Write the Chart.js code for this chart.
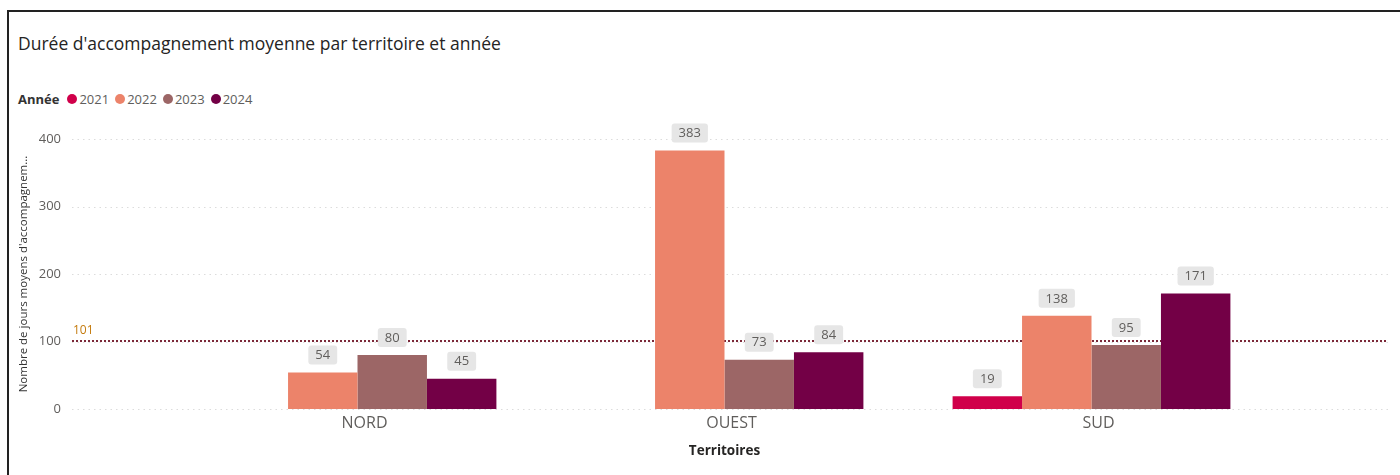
<!DOCTYPE html>
<html lang="fr">
<head>
<meta charset="utf-8">
<script src="https://cdn.jsdelivr.net/npm/chart.js@4.4.1/dist/chart.umd.min.js"></script>
<style>
  html, body { margin: 0; padding: 0; background: #fff; }
  body { width: 1400px; height: 475px; position: relative; overflow: hidden; font-family: "Open Sans", sans-serif; }
  #frame { position: absolute; left: 7px; top: 10px; width: 1400px; height: 480px; border-top: 2px solid #222; border-left: 2px solid #222; }
  #title { position: absolute; left: 18px; top: 31px; font-size: 17.5px; color: #252423; white-space: nowrap; }
  #legend { position: absolute; left: 18px; top: 90px; font-size: 13px; color: #605e5c; display: flex; align-items: center; white-space: nowrap; }
  #legend b { color: #333; margin-right: 8px; font-weight: 700; }
  #legend span.item { display: inline-flex; align-items: center; margin-right: 6px; }
  #legend i { display: inline-block; width: 10px; height: 10px; border-radius: 50%; margin-right: 2px; }
  #wrap { position: absolute; left: 0; top: 0; width: 1400px; height: 475px; }
</style>
</head>
<body>
<div id="frame"></div>
<div id="title">Durée d'accompagnement moyenne par territoire et année</div>
<div id="legend"></div>
<div id="wrap"><canvas id="chart"></canvas></div>

<script>
// =======================
// Data
// =======================
const territoires = ["NORD", "OUEST", "SUD"]
const annees = ["2021", "2022", "2023", "2024"]

const duree2021 = [null, null, 19]
const duree2022 = [54, 383, 138]
const duree2023 = [80, 73, 95]
const duree2024 = [45, 84, 171]

const moyenne = 101
const yTicks = [0, 100, 200, 300, 400]

const couleurs = ["#d0004a", "#ec836a", "#9c6666", "#730046"]


// =======================
// Legend (html)
// =======================
const legend = document.getElementById("legend")
legend.innerHTML = "<b>Année</b>" + annees.map((a, i) =>
  `<span class="item"><i style="background:${couleurs[i]}"></i>${a}</span>`
).join("")


// =======================
// Plugins
// =======================
const GRID_LEFT = 72
const GRID_RIGHT = 1388

const gridLines = {
  id: "gridLines",
  beforeDatasetsDraw(chart) {
    const ctx = chart.ctx
    const y = chart.scales.y
    ctx.save()
    ctx.strokeStyle = "#dcdcdc"
    ctx.lineWidth = 1
    ctx.setLineDash([1.5, 4])
    yTicks.forEach(v => {
      const py = Math.round(y.getPixelForValue(v)) + 0.5
      ctx.beginPath()
      ctx.moveTo(GRID_LEFT, py)
      ctx.lineTo(GRID_RIGHT, py)
      ctx.stroke()
    })

    // average line
    const pa = Math.round(y.getPixelForValue(moyenne))
    ctx.strokeStyle = "#7b2838"
    ctx.lineWidth = 2
    ctx.setLineDash([2, 2])
    ctx.beginPath()
    ctx.moveTo(GRID_LEFT, pa)
    ctx.lineTo(GRID_RIGHT, pa)
    ctx.stroke()
    ctx.setLineDash([])
    ctx.fillStyle = "#c47a0c"
    ctx.font = "12px 'Open Sans'"
    ctx.textAlign = "left"
    ctx.textBaseline = "bottom"
    ctx.fillText(String(moyenne), 73, pa - 4)
    ctx.restore()
  }
}

const valueLabels = {
  id: "valueLabels",
  afterDatasetsDraw(chart) {
    const ctx = chart.ctx
    ctx.save()
    ctx.font = "13px 'Open Sans'"
    ctx.textAlign = "center"
    ctx.textBaseline = "middle"
    chart.data.datasets.forEach((ds, i) => {
      chart.getDatasetMeta(i).data.forEach((bar, j) => {
        const v = ds.data[j]
        if (v === null) return
        const txt = String(v)
        const w = ctx.measureText(txt).width + 14
        const h = 19
        const bottom = bar.y - 8
        ctx.fillStyle = "#e6e6e6"
        ctx.beginPath()
        ctx.roundRect(bar.x - w / 2, bottom - h, w, h, 3)
        ctx.fill()
        ctx.fillStyle = "#605e5c"
        ctx.fillText(txt, bar.x, bottom - h / 2 + 0.5)
      })
    })
    ctx.restore()
  }
}


// =======================
// Chart
// =======================
new Chart(document.getElementById("chart"), {
  type: "bar",
  data: {
    labels: territoires,
    datasets: [duree2021, duree2022, duree2023, duree2024].map((d, i) => ({
      label: annees[i],
      data: d,
      backgroundColor: couleurs[i],
      borderWidth: 0,
      categoryPercentage: 0.757,
      barPercentage: 1.0
    }))
  },
  options: {
    responsive: true,
    maintainAspectRatio: false,
    animation: false,
    layout: { padding: { left: 14, top: 139, right: 125, bottom: 0 } },
    plugins: {
      legend: { display: false },
      title: { display: false },
      tooltip: { enabled: false }
    },
    scales: {
      x: {
        grid: { display: false, drawTicks: false },
        border: { display: false },
        ticks: {
          color: "#605e5c",
          font: { family: "Open Sans", size: 16 },
          padding: 5,
          labelOffset: 7
        },
        title: {
          display: true,
          text: "Territoires",
          color: "#252423",
          font: { family: "Open Sans", size: 13.5, weight: "bold" },
          padding: { top: 0, bottom: 16 }
        },
        afterFit: s => { s.height = 66 }
      },
      y: {
        min: 0,
        max: 400,
        grid: { display: false, drawTicks: false },
        border: { display: false },
        ticks: {
          stepSize: 100,
          color: "#605e5c",
          font: { family: "Open Sans", size: 13 },
          padding: 113
        },
        title: {
          display: true,
          text: "Nombre de jours moyens d'accompagnem...",
          color: "#333",
          font: { family: "Open Sans", size: 11.5 },
          padding: { top: 3, bottom: 0 }
        },
        // the big tick padding must not eat vertical room
        afterFit: s => {
          s.width = 160
          s.paddingTop = 0
          s.paddingBottom = 0
        }
      }
    }
  },
  plugins: [gridLines, valueLabels]
})
</script>
</body>
</html>
